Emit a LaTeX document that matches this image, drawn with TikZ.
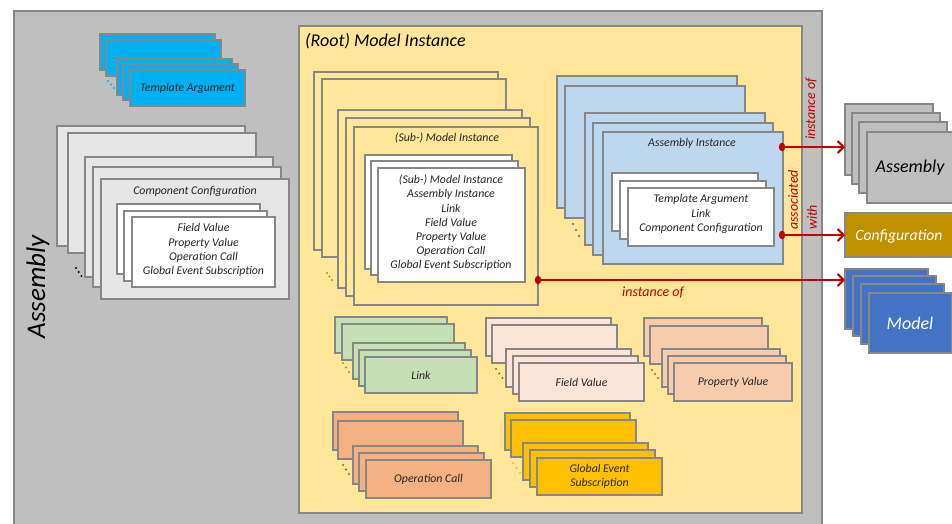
\documentclass[tikz,border=0pt]{standalone}
\usepackage{fontspec}
\setmainfont{Carlito}
\usetikzlibrary{arrows.meta,calc}
\definecolor{bord}{HTML}{878787}
\definecolor{asmgray}{HTML}{BFBFBF}
\definecolor{rootyel}{HTML}{FFE699}
\definecolor{tacyan}{HTML}{00B0F0}
\definecolor{ccgray}{HTML}{E7E6E6}
\definecolor{aiblue}{HTML}{BDD7EE}
\definecolor{linkgreen}{HTML}{C5E0B4}
\definecolor{fvpeach}{HTML}{FBE5D6}
\definecolor{pvpeach}{HTML}{F8CBAD}
\definecolor{ocorange}{HTML}{F4B183}
\definecolor{geyellow}{HTML}{FFC000}
\definecolor{cfggold}{HTML}{BF9000}
\definecolor{mdlblue}{HTML}{4472C4}
\definecolor{relred}{HTML}{C00000}
\definecolor{dotblue}{HTML}{2E75B6}
\definecolor{dotgreen}{HTML}{70AD47}
\definecolor{dotorange}{HTML}{C55A11}
\definecolor{txt}{HTML}{262626}
\newcommand\layers[5]{\foreach \px/\py [count=\i] in {#5}{\node[#1,minimum width=#3,minimum height=#4] (#2\i) at (\px,\py) {};}}
\newcommand\tripledot[5]{\foreach \k in {0,1,2}{\fill[#1] ({#2+\k*#4},{#3+\k*#5}) circle (1.1pt);}}
\begin{document}
\begin{tikzpicture}[x=1pt,y=-1pt,
  box/.style={draw=bord, line width=1.6pt, anchor=north west, inner sep=0pt, outer sep=0pt},
  lbl/.style={font=\fontsize{11.8}{14.2}\selectfont\itshape, align=center, inner sep=0pt, text=txt},
  redlbl/.style={font=\fontsize{14}{19}\selectfont\itshape, inner sep=0pt, text=relred},
  rel/.style={draw=relred, line width=2pt, -{Straight Barb[length=6pt,width=12pt]}}]
\useasboundingbox (0,0) rectangle (952,523);
\clip (0,0) rectangle (952,523);
\fill[white] (0,0) rectangle (952,523);
% outer assembly
\node[box, fill=asmgray, line width=2pt, minimum width=808pt, minimum height=540pt] (asmouter) at (14,11) {};
\node[rotate=90, font=\fontsize{27}{29}\selectfont\itshape, text=black, inner sep=0pt] (asmt) at (38,287) {Assembly};
% root model instance
\node[box, fill=rootyel, minimum width=503pt, minimum height=487pt] (root) at (299,26) {};
\node[anchor=west, font=\fontsize{18}{20}\selectfont\itshape, text=black, inner sep=0pt] (roott) at (305,41) {(Root) Model Instance};
% template argument
\layers{box,fill=tacyan}{ta}{115pt}{36pt}{100/34,106/40,117/59,123/64,130/70}
\node[lbl] (tat) at (ta5) {Template Argument};
\tripledot{tacyan}{108}{81}{3}{3.5}
% component configuration
\layers{box,fill=ccgray}{cc}{188pt}{120pt}{57/126,68/133,85/157,93/167,101/179}
\node[lbl] (cct) at (195,191) {Component Configuration};
\layers{box,fill=white}{cci}{143pt}{70pt}{117/204,124/211,132/217}
\node[lbl] (ccit) at (203.5,250) {Field Value\\Property Value\\Operation Call\\Global Event Subscription};
\tripledot{black}{76}{268}{2.7}{4}
% sub model instance
\layers{box,fill=rootyel}{sm}{184pt}{178pt}{314/72,322/79,338/110,346/118,354/127}
\node[lbl] (smt) at (447,138) {(Sub-) Model Instance};
\layers{box,fill=white}{smi}{147pt}{114pt}{365/155,371/161,378/168}
\node[lbl] (smit) at (451,223) {(Sub-) Model Instance\\Assembly Instance\\Link\\Field Value\\Property Value\\Operation Call\\Global Event Subscription};
\tripledot{cfggold}{327}{273}{2.5}{3.5}
% assembly instance
\layers{box,fill=aiblue}{ai}{180pt}{132pt}{557/76,565/86,585/113,593/123,603/132}
\node[lbl] (ait) at (692,143) {Assembly Instance};
\layers{box,fill=white}{aii}{146pt}{58pt}{612/173,620/181,628/188}
\node[lbl] (aiit) at (701,214) {Template Argument\\Link\\Component Configuration};
\tripledot{dotblue}{573}{224}{3}{6}
% link
\layers{box,fill=linkgreen}{lk}{112pt}{36pt}{335/317,342/324,353/343,359/350,365/357}
\node[lbl] (lkt) at (lk5) {Link};
\tripledot{dotgreen}{343}{363}{3}{4.5}
% field value
\layers{box,fill=fvpeach}{fv}{125pt}{38pt}{486/318,492/325,506/349,513/356,519/363}
\node[lbl] (fvt) at (fv5) {Field Value};
\tripledot{dotorange}{496}{369}{3.2}{4.5}
% property value
\layers{box,fill=pvpeach}{pv}{118pt}{38pt}{644/318,650/326,662/349,668/356,674/363}
\node[lbl] (pvt) at (pv5) {Property Value};
\tripledot{dotorange}{652}{370}{3}{4}
% operation call
\layers{box,fill=ocorange}{oc}{125pt}{38pt}{333/412,338/421,353/446,359/453,366/460}
\node[lbl] (oct) at (oc5) {Operation Call};
\tripledot{dotorange}{343}{465}{3}{4.5}
% global event subscription
\layers{box,fill=geyellow}{ge}{125pt}{37pt}{505/413,511/420,523/443,530/450,537/458}
\node[lbl] (get) at (ge5) {Global Event\\Subscription};
\tripledot{geyellow}{513}{463}{3.5}{5}
% right side
\layers{box,fill=asmgray}{asm}{88pt}{71pt}{845/104,852/113,859/122,867/132}
\node[font=\fontsize{18}{20}\selectfont\itshape, text=black, inner sep=0pt] (asmrt) at (910,168) {Assembly};
\node[box, fill=cfggold, minimum width=112pt, minimum height=44pt] (cfg) at (845,213) {};
\node[font=\fontsize{15.7}{17}\selectfont\itshape, text=white, inner sep=0pt] (cfgt) at (899,236) {Configuration};
\layers{box,fill=mdlblue}{mdl}{83pt}{60pt}{845/269,853/276,861/284,869/293}
\node[font=\fontsize{18}{20}\selectfont\itshape, text=white, inner sep=0pt] (mdlt) at (910,323) {Model};
% relations
\coordinate (d1) at ($(ai5.north east)+(-1,15)$);
\coordinate (d2) at ($(ai5.north east)+(-1,103)$);
\coordinate (d3) at ($(sm5.north east)+(0,153)$);
\draw[rel] (d1) -- (d1 -| asm1.west);
\draw[rel] (d2) -- (d2 -| cfg.west);
\draw[rel] (d3) -- (d3 -| mdl1.west);
\fill[relred] (d1) ellipse (3.2 and 4.3);
\fill[relred] (d2) ellipse (3.2 and 4.3);
\fill[relred] (d3) ellipse (3.2 and 4.3);
\node[redlbl, rotate=90] (r1) at (811,109) {instance of};
\node[redlbl, rotate=90, align=left] (r2) at (802.5,200) {associated\\with};
\node[redlbl] (r3) at (653,292) {instance of};
\end{tikzpicture}
\end{document}
